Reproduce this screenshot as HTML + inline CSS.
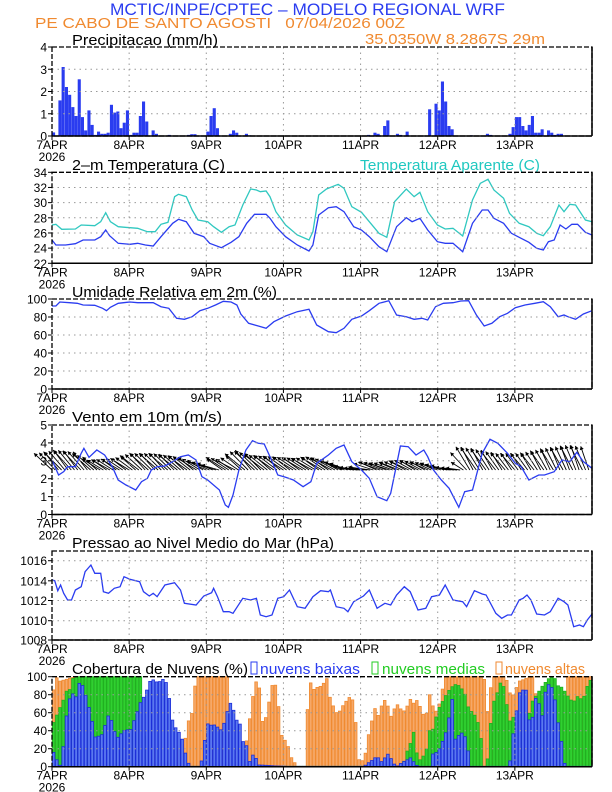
<!DOCTYPE html>
<html><head><meta charset="utf-8"><style>
html,body{margin:0;padding:0;background:#fff;}
svg{display:block;font-family:"Liberation Sans",sans-serif;}
</style></head><body>
<svg id="s" width="612" height="792" viewBox="0 0 612 792" xmlns="http://www.w3.org/2000/svg">
<text x="110" y="15" font-size="17" fill="#2a3cf0" textLength="395" lengthAdjust="spacingAndGlyphs">MCTIC/INPE/CPTEC – MODELO REGIONAL WRF</text>
<text x="35" y="28" font-size="15" fill="#f08a30" xml:space="preserve" textLength="370" lengthAdjust="spacingAndGlyphs">PE CABO DE SANTO AGOSTI   07/04/2026 00Z</text>
<text x="72" y="45" font-size="15" fill="#000" textLength="146" lengthAdjust="spacingAndGlyphs">Precipitacao (mm/h)</text>
<text x="365" y="44" font-size="15" fill="#f08a30" textLength="180" lengthAdjust="spacingAndGlyphs">35.0350W 8.2867S 29m</text>
<text x="72" y="170" font-size="15" textLength="153" lengthAdjust="spacingAndGlyphs">2–m Temperatura (C)</text>
<text x="360" y="170" font-size="15" fill="#20c8c0" textLength="180" lengthAdjust="spacingAndGlyphs">Temperatura Aparente (C)</text>
<text x="72" y="297" font-size="15" textLength="205" lengthAdjust="spacingAndGlyphs">Umidade Relativa em 2m (%)</text>
<text x="72" y="422" font-size="15" textLength="150" lengthAdjust="spacingAndGlyphs">Vento em 10m (m/s)</text>
<text x="72" y="548" font-size="15" textLength="262" lengthAdjust="spacingAndGlyphs">Pressao ao Nivel Medio do Mar (hPa)</text>
<text x="72" y="674" font-size="15" textLength="176" lengthAdjust="spacingAndGlyphs">Cobertura de Nuvens (%)</text>
<rect x="251" y="662" width="6" height="12" fill="none" stroke="#2a3cf0"/>
<text x="260" y="674" font-size="15" fill="#2a3cf0" textLength="100" lengthAdjust="spacingAndGlyphs">nuvens baixas</text>
<rect x="372" y="662" width="6" height="12" fill="none" stroke="#22cc22"/>
<text x="382" y="674" font-size="15" fill="#22cc22" textLength="103" lengthAdjust="spacingAndGlyphs">nuvens medias</text>
<rect x="496" y="662" width="6" height="12" fill="none" stroke="#f08a30"/>
<text x="505" y="674" font-size="15" fill="#f08a30" textLength="80" lengthAdjust="spacingAndGlyphs">nuvens altas</text>
<g id="g"></g>
</svg>
<script>
var G=document.getElementById('g'),out="";
var L=52,R=592;
function zx(x){return L+(x-130)*(R-L)/1387;}
function hx(h){return L+h*(R-L)/168;}
function interp(k,x){for(var i=0;i<k.length-2;i+=2){if(x<=k[i+2]){var t=(x-k[i])/(k[i+2]-k[i]||1);return k[i+1]+(k[i+3]-k[i+1])*t;}}return k[k.length-1];}
function poly(k,off,col,w){var p=[];for(var i=0;i<k.length;i+=2)p.push(zx(k[i]).toFixed(1)+","+(off+k[i+1]/3).toFixed(1));out+='<polyline points="'+p.join(" ")+'" fill="none" stroke="'+col+'" stroke-width="'+(w||1.3)+'"/>';}
function panel(top,bot,ticks,labs){
 for(var d=1;d<7;d++){var x=hx(d*24);out+='<line x1="'+x+'" y1="'+top+'" x2="'+x+'" y2="'+bot+'" stroke="#999" stroke-dasharray="1.5,4"/>';}
 for(var i=0;i<ticks.length;i++){var y=ticks[i];if(y>top+1&&y<bot-1)out+='<line x1="'+L+'" y1="'+y+'" x2="'+R+'" y2="'+y+'" stroke="#999" stroke-dasharray="1.5,4"/>';
  out+='<line x1="'+(L-4)+'" y1="'+y+'" x2="'+L+'" y2="'+y+'" stroke="#000"/>';
  out+='<text x="'+(L-5)+'" y="'+(y+4.5)+'" text-anchor="end" font-size="12">'+labs[i]+'</text>';}
 out+='<rect x="'+L+'" y="'+top+'" width="'+(R-L)+'" height="'+(bot-top)+'" fill="none" stroke="#000" stroke-width="1.3" stroke-dasharray="5,2"/>';
 out+='<line x1="'+R+'" y1="'+top+'" x2="'+R+'" y2="'+bot+'" stroke="#000" stroke-width="1.5"/>';
 out+='<line x1="'+L+'" y1="'+bot+'" x2="'+R+'" y2="'+bot+'" stroke="#000" stroke-width="1.5"/>';
 var n=["7APR","8APR","9APR","10APR","11APR","12APR","13APR"];
 for(var d=0;d<7;d++){var x=hx(d*24);out+='<line x1="'+x+'" y1="'+bot+'" x2="'+x+'" y2="'+(bot+4)+'" stroke="#000"/>';out+='<text x="'+x+'" y="'+(bot+13)+'" text-anchor="middle" font-size="12">'+n[d]+'</text>';}
 out+='<text x="'+L+'" y="'+(bot+25)+'" text-anchor="middle" font-size="12">2026</text>';
}
function ys(top,bot,n){var a=[];for(var i=0;i<=n;i++)a.push(bot-(bot-top)*i/n);return a;}
var P1t=47,P1b=136;
var pr=[0,0.16,2,1.6,3,3.1,4,2.2,5,1.85,6,1.3,7,0.9,8,2.55,9,0.85,10,0.25,11,1.15,12,0.5,13,0.05,14,0.2,15,0.1,16,0.1,17,0.15,18,1.4,19,1.05,20,1.1,21,0.35,22,0.6,23,1.15,24,0.05,25,0.15,26,0.15,27,0.9,28,1.55,29,0.65,31,0.25,32,0.1,36,0.05,42,0.05,43,0.08,44,0.08,48,0.2,49,0.9,50,1.25,51,0.35,55,0.1,56,0.25,57,0.15,60,0.1,61,0.03,98,0.05,100,0.15,101,0.1,103,0.45,104,0.7,107,0.1,108,0.05,110,0.2,117,1.2,119,1.45,120,1.15,121,2.45,122,1.55,123,0.45,124,0.3,130,0.03,135,0.1,136,0.05,142,0.1,143,0.4,144,0.85,145,0.85,146,0.45,147,0.25,148,0.5,149,0.9,150,0.15,151,0.15,152,0.3,154,0.25,155,0.15,156,0.05,157,0.1,158,0.1];
for(var i=0;i<pr.length;i+=2){var h=pr[i],v=pr[i+1],hh=v*(P1b-P1t)/4;out+='<rect x="'+hx(h).toFixed(1)+'" y="'+(P1b-hh).toFixed(1)+'" width="3.1" height="'+hh.toFixed(1)+'" fill="#2a3cf0"/>';}
panel(P1t,P1b,ys(P1t,P1b,4),["0","1","2","3","4"]);
var tb=[130,225,140,240,165,240,190,236,210,225,240,225,255,215,268,195,278,212,300,235,330,238,350,235,370,240,390,243,410,215,440,175,455,163,475,170,495,205,520,215,535,235,565,248,590,232,610,215,630,175,650,148,680,148,690,160,705,185,730,215,760,240,790,258,800,240,815,150,840,128,860,125,880,140,905,185,925,195,945,215,970,245,990,260,1015,185,1040,158,1055,170,1075,160,1095,195,1120,230,1140,235,1160,235,1185,260,1210,175,1235,135,1250,135,1265,160,1290,175,1310,205,1335,220,1355,232,1375,250,1392,255,1405,230,1420,225,1435,180,1450,192,1465,178,1480,178,1500,202,1517,210];
var tc=[130,180,140,178,155,193,190,192,205,180,240,182,255,170,268,143,280,170,300,185,330,188,350,190,375,200,395,200,410,178,428,172,445,95,455,88,475,95,490,135,505,165,530,170,545,185,565,202,585,185,600,180,610,150,620,120,640,72,655,75,665,80,680,78,690,95,705,140,730,180,760,210,790,225,800,200,815,90,835,72,865,58,880,70,900,125,925,142,945,170,970,205,990,217,1010,110,1040,72,1060,95,1075,82,1095,140,1120,180,1140,192,1160,190,1185,213,1210,105,1230,55,1250,43,1265,75,1290,100,1305,145,1330,175,1355,185,1375,205,1392,212,1410,185,1432,120,1445,140,1460,118,1475,120,1500,165,1517,170];
poly(tc,165,"#30c8c0");poly(tb,165,"#2a3cf0");
panel(172.3,263.3,ys(172.3,263.3,6),["22","24","26","28","30","32","34"]);
var rh=[130,48,140,48,150,36,175,38,195,40,210,45,240,46,260,55,270,62,280,52,300,40,330,36,350,38,390,38,410,50,430,55,450,85,470,88,490,80,510,62,530,55,550,45,570,34,590,36,605,45,615,72,635,100,660,108,680,115,700,95,730,78,760,65,790,58,810,105,840,125,860,128,880,115,900,88,925,78,945,62,970,40,995,32,1015,75,1040,80,1060,88,1080,85,1095,90,1115,50,1135,40,1160,38,1180,33,1200,32,1220,75,1240,108,1260,100,1280,80,1300,70,1320,53,1345,45,1370,40,1392,35,1410,50,1430,80,1445,75,1455,80,1475,88,1495,72,1517,62];
poly(rh,290,"#2a3cf0");
panel(299,389,ys(299,389,5),["0","20","40","60","80","100"]);
var P4t=425,P4b=514.5,base=470;
var tipY=[130,100,180,90,220,95,260,120,330,115,370,100,430,100,490,110,560,135,570,110,600,120,640,90,680,105,740,110,800,115,830,110,870,120,920,145,940,150,960,125,1000,130,1060,120,1120,130,1180,150,1200,80,1240,85,1300,100,1360,100,1420,85,1480,75,1517,80];
var dxk=[0,-16,60,-18,90,-20,100,-20,110,-18,120,-16,130,-14,168,-10];
for(var h=0;h<168;h++){var x=hx(h),z=130+h*1387/168,ty=420+interp(tipY,z)/3,dx=interp(dxk,h)+(h%3-1)*2,tx=x+dx;
 if(ty>base-2){ty=base-2;}
 var ang=Math.atan2(ty-base,tx-x),a1=ang+2.6,a2=ang-2.6;
 out+='<line x1="'+x.toFixed(1)+'" y1="'+base+'" x2="'+tx.toFixed(1)+'" y2="'+ty.toFixed(1)+'" stroke="#000" stroke-width="0.9"/>';
 out+='<polygon points="'+tx.toFixed(1)+','+ty.toFixed(1)+' '+(tx+4*Math.cos(a1)).toFixed(1)+','+(ty+4*Math.sin(a1)).toFixed(1)+' '+(tx+4*Math.cos(a2)).toFixed(1)+','+(ty+4*Math.sin(a2)).toFixed(1)+'" fill="#000"/>';}
var ws=[130,120,147,165,160,155,170,140,190,140,205,100,212,85,225,112,245,90,265,105,285,140,300,180,320,195,345,210,360,185,375,175,385,150,400,140,420,138,440,125,460,110,480,105,500,120,515,170,530,180,560,210,575,255,583,262,595,225,610,150,628,90,645,62,660,70,675,72,690,110,710,165,730,172,750,180,775,200,795,185,810,130,840,105,860,85,880,75,900,125,925,150,945,175,965,230,990,242,1000,220,1025,78,1045,80,1065,105,1085,90,1095,110,1110,150,1130,180,1150,205,1175,262,1190,215,1210,210,1235,100,1255,58,1275,70,1300,100,1320,130,1335,140,1355,180,1380,165,1395,165,1420,155,1440,120,1460,125,1478,97,1495,125,1517,145];
poly(ws,420,"#2a3cf0");
panel(P4t,P4b,ys(P4t,P4b,5),["0","1","2","3","4","5"]);
var ps=[130,120,137,122,145,152,152,135,160,160,170,180,180,180,190,150,205,140,215,95,230,75,240,100,255,100,262,155,275,160,290,145,305,140,315,110,330,118,355,125,365,155,380,168,390,160,400,170,420,135,445,128,460,150,470,190,500,195,520,168,540,158,545,145,555,170,570,215,585,215,595,220,620,175,640,180,655,175,665,225,680,230,695,225,710,175,725,170,740,150,760,200,780,205,800,170,820,152,840,155,845,150,860,200,880,205,890,215,905,185,930,168,945,150,965,205,985,190,1000,195,1015,165,1035,140,1050,155,1070,210,1090,205,1105,170,1125,165,1140,135,1160,180,1185,185,1195,200,1215,152,1235,162,1245,165,1270,220,1285,235,1300,225,1310,225,1330,180,1340,175,1350,165,1360,180,1375,222,1395,225,1410,215,1430,175,1445,185,1455,195,1470,260,1485,255,1495,260,1505,240,1517,222];
poly(ps,540,"#2a3cf0");
panel(551,640,[640,620.7,600.5,580.8,560.7],["1008","1010","1012","1014","1016"]);
var P6t=676.7,P6b=766.7;
var lo=[130,20,140,10,150,0,160,25,168,60,175,75,183,82,190,70,195,90,205,95,212,85,220,75,228,60,237,43,245,25,253,40,262,32,270,58,278,55,287,48,295,30,303,35,312,38,320,43,330,38,337,48,345,55,353,68,362,75,370,80,377,90,385,98,395,95,403,93,412,97,420,97,428,88,437,55,445,45,453,40,462,35,470,20,478,5,490,0,510,0,518,13,527,48,535,47,543,45,552,48,560,38,568,45,576,52,585,73,595,65,603,52,612,50,620,28,628,27,637,5,645,13,652,12,660,2,700,1,760,0,930,0,945,5,955,8,965,12,975,5,985,10,995,15,1005,5,1015,0,1030,5,1040,7,1050,10,1060,5,1070,0,1100,0,1110,17,1120,15,1130,25,1140,35,1150,55,1158,75,1165,30,1175,35,1185,38,1195,30,1205,0,1300,0,1310,10,1318,55,1325,65,1333,87,1340,85,1348,85,1355,52,1363,52,1370,68,1378,93,1385,35,1393,78,1402,88,1410,95,1418,80,1425,70,1432,42,1440,25,1448,0,1517,0];
var me=[130,45,140,55,150,65,160,75,168,85,175,85,185,100,360,100,365,35,375,10,385,0,1030,0,1040,15,1050,25,1060,40,1070,5,1080,10,1090,15,1100,40,1110,42,1120,62,1130,70,1140,78,1150,85,1160,90,1170,92,1180,88,1190,82,1200,65,1210,60,1220,55,1230,40,1240,0,1250,10,1260,65,1270,80,1278,85,1285,100,1295,78,1305,50,1315,55,1330,40,1345,30,1360,70,1375,80,1390,90,1410,100,1420,100,1430,90,1440,88,1450,82,1460,75,1470,72,1480,78,1490,75,1500,80,1510,100,1517,90];
var hi=[130,75,140,100,150,95,190,100,200,45,210,0,340,0,345,5,355,35,370,30,380,35,390,20,400,0,420,0,430,5,440,15,450,20,460,25,470,25,480,50,490,60,500,100,580,100,590,30,600,10,610,0,620,5,630,30,640,60,650,90,660,100,670,50,680,55,690,78,700,100,710,75,720,35,735,25,745,10,760,0,780,0,790,100,800,85,810,88,825,90,835,100,845,75,860,60,870,62,880,70,890,75,900,80,910,50,920,0,935,15,945,40,960,65,970,55,980,75,990,72,1000,55,1010,65,1020,70,1030,60,1040,65,1050,75,1060,70,1070,75,1080,60,1090,55,1100,80,1110,65,1120,60,1130,80,1140,100,1240,100,1245,65,1250,60,1260,100,1290,100,1300,95,1310,75,1320,85,1330,95,1360,100,1370,100,1380,25,1390,0,1440,0,1450,100,1517,100];
function bars(k,fill,stroke){for(var h=0;h<168;h++){var z=130+(h+0.5)*1387/168,v=interp(k,z);if(v<0.5)v=0.5;var hh=v*(P6b-P6t)/100;out+='<rect x="'+(hx(h)+0.3).toFixed(1)+'" y="'+(P6b-hh).toFixed(1)+'" width="2.6" height="'+hh.toFixed(1)+'" fill="'+fill+'" stroke="'+stroke+'" stroke-width="0.8"/>';}}
bars(hi,"#f6a868","#f08a30");bars(me,"#30d030","#20b020");bars(lo,"#5a78f0","#1c2ed8");
panel(P6t,P6b,ys(P6t,P6b,5),["0","20","40","60","80","100"]);
G.innerHTML=out;
</script>
</body></html>
